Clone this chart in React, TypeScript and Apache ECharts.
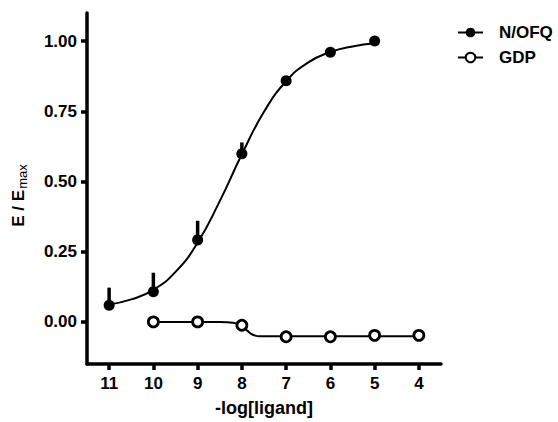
import React, { useEffect, useRef } from "react";
import * as echarts from "echarts";

const xTicks = [4, 5, 6, 7, 8, 9, 10, 11];
const yTicks = [0, 0.25, 0.5, 0.75, 1.0];

const nofqP = [11, 10, 9, 8, 7, 6, 5];
const nofqMean = [0.059, 0.107, 0.292, 0.599, 0.859, 0.96, 1.0];
const nofqErrUp = [0.063, 0.068, 0.068, 0.04, 0, 0, 0];

const gdpP = [10, 9, 8, 7, 6, 5, 4];
const gdpMean = [0.0, 0.0, -0.012, -0.053, -0.053, -0.048, -0.048];

const nofqCurveP = [11, 10.5, 10, 9.5, 9, 8.5, 8, 7.5, 7, 6.5, 6, 5.5, 5];
const nofqCurveY = [0.062, 0.08, 0.114, 0.178, 0.282, 0.43, 0.597, 0.748, 0.857, 0.924, 0.961, 0.981, 0.992];

const gdpCurveP = [10, 9, 8.5, 8.2, 8.0, 7.9, 7.8, 7.7, 7.6, 7.5, 7, 6, 5, 4];
const gdpCurveY = [0, 0, 0, -0.003, -0.013, -0.028, -0.042, -0.049, -0.051, -0.051, -0.051, -0.051, -0.051, -0.051];

const FONT = "Liberation Sans, Arial, sans-serif";

export default function App() {
  const ref = useRef<HTMLDivElement>(null);
  useEffect(() => {
    const chart = echarts.init(ref.current!, null, { renderer: "svg" });
    const errData = nofqP.map((p, i) => [p, nofqMean[i], nofqMean[i] + nofqErrUp[i]]);
    chart.setOption({
      animation: false,
      backgroundColor: "#ffffff",
      grid: { left: 87, right: 117, top: 13, bottom: 55, containLabel: false },
      legend: {
        orient: "vertical",
        left: 452,
        top: 19,
        itemWidth: 25,
        itemHeight: 12,
        itemGap: 8,
        data: ["N/OFQ", "GDP"],
        textStyle: { fontFamily: FONT, fontWeight: "bold", fontSize: 17, color: "#000", padding: [0, 0, 0, 11] },
      },
      xAxis: {
        type: "value",
        inverse: true,
        min: 3.5,
        max: 11.5,
        name: "-log[ligand]",
        nameLocation: "middle",
        nameGap: 35,
        nameTextStyle: { fontFamily: FONT, fontWeight: "bold", fontSize: 18, color: "#000" },
        splitLine: { show: false },
        axisLine: { onZero: false, lineStyle: { color: "#000", width: 3.5 } },
        axisTick: { show: true, length: 6, lineStyle: { color: "#000", width: 3.5 }, customValues: xTicks },
        axisLabel: {
          margin: 11,
          fontFamily: FONT,
          fontWeight: "bold",
          fontSize: 17,
          color: "#000",
          customValues: xTicks,
          formatter: (v: number) => String(v),
        },
      },
      yAxis: {
        type: "value",
        min: -0.15,
        max: 1.1,
        name: "{a|E / E}{b|max}",
        nameLocation: "middle",
        nameGap: 58,
        nameRotate: 90,
        nameTextStyle: {
          fontFamily: FONT,
          fontWeight: "bold",
          color: "#000",
          padding: [0, 14, 0, 0],
          rich: {
            a: { fontFamily: FONT, fontWeight: "bold", fontSize: 17, color: "#000" },
            b: { fontFamily: FONT, fontWeight: "normal", fontSize: 13, color: "#000", verticalAlign: "bottom", padding: [9, 0, 0, 1] },
          },
        },
        splitLine: { show: false },
        axisLine: { show: true, onZero: false, lineStyle: { color: "#000", width: 3.5 } },
        axisTick: { show: true, length: 6, lineStyle: { color: "#000", width: 3.5 }, customValues: yTicks },
        axisLabel: {
          margin: 10,
          fontFamily: FONT,
          fontWeight: "bold",
          fontSize: 17,
          color: "#000",
          customValues: yTicks,
          formatter: (v: number) => v.toFixed(2),
        },
      },
      series: [
        {
          name: "N/OFQ",
          type: "line",
          data: nofqCurveP.map((p, i) => [p, nofqCurveY[i]]),
          smooth: 0.5,
          showSymbol: false,
          symbol: "circle",
          symbolSize: 10,
          itemStyle: { color: "#000" },
          lineStyle: { color: "#000", width: 2 },
          silent: true,
          z: 2,
        },
        {
          name: "GDP",
          type: "line",
          data: gdpCurveP.map((p, i) => [p, gdpCurveY[i]]),
          smooth: 0.3,
          showSymbol: false,
          symbol: "circle",
          symbolSize: 9,
          itemStyle: { color: "#fff", borderColor: "#000", borderWidth: 2.5 },
          lineStyle: { color: "#000", width: 2 },
          silent: true,
          z: 2,
        },
        {
          name: "N/OFQ err",
          type: "custom",
          data: errData,
          z: 3,
          renderItem: (params: any, api: any) => {
            const a = api.coord([api.value(0), api.value(1)]);
            const b = api.coord([api.value(0), api.value(2)]);
            return {
              type: "line",
              shape: { x1: a[0], y1: a[1], x2: b[0], y2: b[1] },
              style: { stroke: "#000", lineWidth: 3.5 },
            };
          },
        },
        {
          name: "N/OFQ pts",
          type: "scatter",
          data: nofqP.map((p, i) => [p, nofqMean[i]]),
          symbol: "circle",
          symbolSize: 11,
          itemStyle: { color: "#000", opacity: 1 },
          z: 4,
        },
        {
          name: "GDP pts",
          type: "scatter",
          data: gdpP.map((p, i) => [p, gdpMean[i]]),
          symbol: "circle",
          symbolSize: 10,
          itemStyle: { color: "#fff", borderColor: "#000", borderWidth: 2.8, opacity: 1 },
          z: 4,
        },
      ],
    });
    return () => chart.dispose();
  }, []);
  return <div ref={ref} style={{ position: "fixed", left: 0, top: 0, width: 558, height: 422 }} />;
}
